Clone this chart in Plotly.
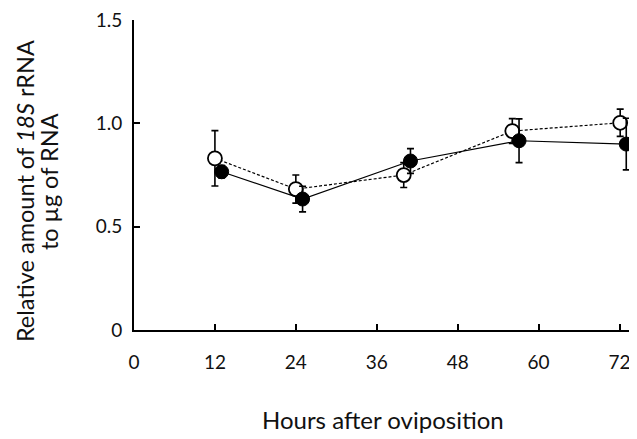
import plotly.graph_objects as go

# Data
hours_open = [12, 24, 40, 56.1, 72.1]
open_vals = [0.831, 0.682, 0.750, 0.963, 1.003]
open_err = [0.134, 0.068, 0.060, 0.060, 0.066]

hours_filled = [13, 25, 41, 57.1, 73]
filled_vals = [0.766, 0.634, 0.818, 0.916, 0.900]
filled_err = [0.030, 0.062, 0.060, 0.106, 0.125]

x_ticks = [0, 12, 24, 36, 48, 60, 72]
y_ticks = [0, 0.5, 1.0, 1.5]
y_tick_labels = ["0", "0.5", "1.0", "1.5"]

FONT = "Lato, 'Open Sans', sans-serif"

# page body has an 8px margin; plot area should sit at page x 134..633.5, y 20..330
PL, PR, PT, PB = 134, 633.5, 20, 330
OFF = 8
W = 637 - OFF
H = 439 - OFF


def px(x):
    return (x - PL) / (PR - PL)


def py(y):
    return (PB - y) / (PB - PT)


fig = go.Figure()
fig.add_trace(go.Scatter(
    x=hours_open, y=open_vals, mode="lines+markers",
    line=dict(color="black", width=1.2, dash="3px,2px"),
    marker=dict(symbol="circle", size=14, color="white", line=dict(color="black", width=1.8)),
    error_y=dict(type="data", array=open_err, visible=True, color="black", thickness=1.6, width=3.5),
    cliponaxis=False, showlegend=False,
))
fig.add_trace(go.Scatter(
    x=hours_filled, y=filled_vals, mode="lines+markers",
    line=dict(color="black", width=1.2),
    marker=dict(symbol="circle", size=14, color="black", line=dict(color="black", width=1)),
    error_y=dict(type="data", array=filled_err, visible=True, color="black", thickness=1.6, width=3.5),
    cliponaxis=False, showlegend=False,
))

fig.update_layout(
    width=W, height=H,
    margin=dict(l=PL - OFF, r=W - (PR - OFF), t=PT - OFF, b=H - (PB - OFF), autoexpand=False),
    paper_bgcolor="white", plot_bgcolor="white",
    font=dict(family=FONT, size=19, color="#111"),
    xaxis=dict(
        range=[0, 74], tickvals=x_ticks, ticktext=[str(v) for v in x_ticks],
        showgrid=False, zeroline=False, showline=True, linecolor="black", linewidth=2,
        ticks="inside", ticklen=6, tickwidth=1.5, tickcolor="black",
        ticklabelstandoff=14, ticklabeloverflow="allow", automargin=False,
    ),
    yaxis=dict(
        range=[0, 1.5005], tickvals=y_ticks, ticktext=y_tick_labels,
        showgrid=False, zeroline=False, showline=True, linecolor="black", linewidth=2,
        ticks="inside", ticklen=6, tickwidth=1.5, tickcolor="black",
        ticklabelstandoff=6, ticklabeloverflow="allow", automargin=False,
    ),
    annotations=[
        dict(text="Hours after oviposition", xref="paper", yref="paper",
             x=px(383.5), y=py(419), xanchor="center", yanchor="middle",
             showarrow=False, font=dict(size=24)),
        dict(text="Relative amount of <i>18S</i> rRNA", xref="paper", yref="paper",
             x=px(25), y=py(191), xanchor="center", yanchor="middle",
             textangle=-90, showarrow=False, font=dict(size=23.5)),
        dict(text="to µg of RNA", xref="paper", yref="paper",
             x=px(49), y=py(182), xanchor="center", yanchor="middle",
             textangle=-90, showarrow=False, font=dict(size=23.5)),
    ],
)

fig.write_html("out.html")
